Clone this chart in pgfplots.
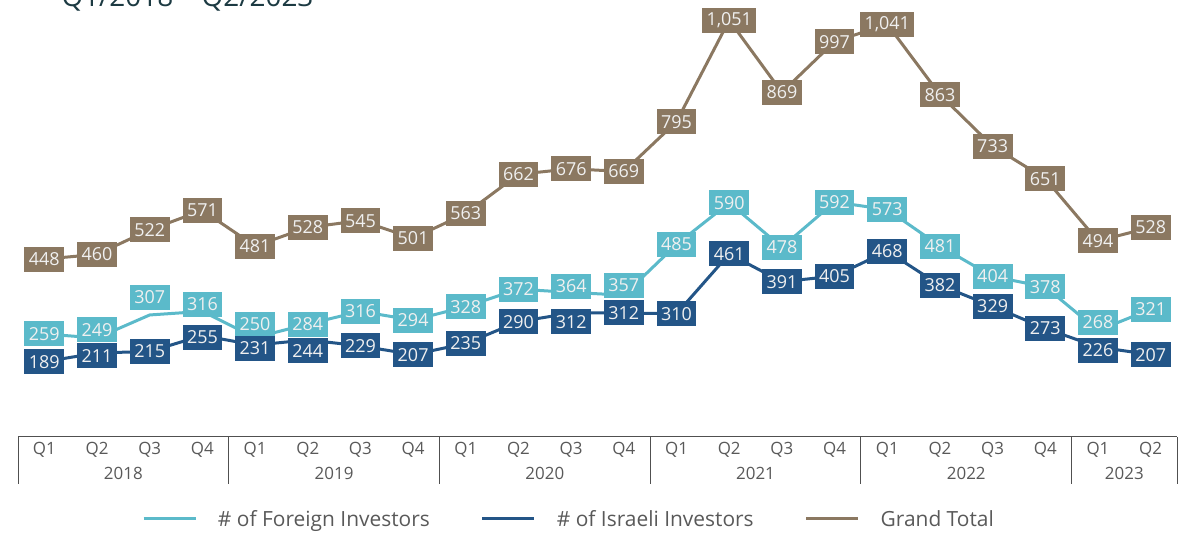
\documentclass[border=0pt]{standalone}
\usepackage{fontspec}
\setmainfont{Open Sans}
\usepackage{pgfplots}
\pgfplotsset{compat=1.18}
\usepackage{pgfplotstable}
\definecolor{cF}{RGB}{91,186,202}
\definecolor{cI}{RGB}{35,85,135}
\definecolor{cT}{RGB}{139,120,97}
\definecolor{txt}{RGB}{89,89,89}
\definecolor{axc}{RGB}{80,80,80}
\definecolor{ttl}{RGB}{28,58,66}

\pgfplotstableread{
x y dy
0 259 0
1 249 8
2 307 17.7
3 316 7
4 250 13.6
5 284 0
6 316 0
7 294 0
8 328 0
9 372 0
10 364 6
11 357 10
12 485 0
13 590 0
14 478 0
15 592 0
16 573 0
17 481 0
18 404 0
19 378 0
20 268 8
21 321 0
}\foreign

\pgfplotstableread{
x y dy
0 189 0
1 211 -3
2 215 0
3 255 -2
4 231 -3
5 244 -11
6 229 0
7 207 0
8 235 0
9 290 0
10 312 -8.7
11 312 0
12 310 0
13 461 0
14 391 0
15 405 0
16 468 0
17 382 0
18 329 0
19 273 0
20 226 -3
21 207 0
}\israeli

\pgfplotstableread{
x y dy
0 448 0
1 460 0
2 522 0
3 571 0
4 481 0
5 528 0
6 545 0
7 501 0
8 563 0
9 662 0
10 676 0
11 669 0
12 795 0
13 1051 0
14 869 0
15 997 0
16 1041 0
17 863 0
18 733 0
19 651 0
20 494 0
21 528 0
}\total

\tikzset{yearlab/.style={font=\fontsize{17}{17}\selectfont, text=txt, anchor=center, yshift=-36.5bp}}

\begin{document}
\begin{tikzpicture}
\useasboundingbox (-18bp,-97.4bp) rectangle (1170bp,436.6bp);
\begin{axis}[
  at={(0,0)}, anchor=south west,
  width=1159bp, height=436.6bp, scale only axis,
  xmin=-0.5, xmax=21.5, ymin=0, ymax=1102,
  axis x line*=bottom, axis y line=none,
  x axis line style={draw=axc, line width=1bp},
  clip=false,
  xtick={0,...,21},
  xticklabels={Q1,Q2,Q3,Q4,Q1,Q2,Q3,Q4,Q1,Q2,Q3,Q4,Q1,Q2,Q3,Q4,Q1,Q2,Q3,Q4,Q1,Q2},
  major tick length=0pt,
  xticklabel style={font=\fontsize{17}{17}\selectfont, text=txt, anchor=center, yshift=-13.5bp},
  extra x ticks={-0.5,3.5,7.5,11.5,15.5,19.5,21.5},
  extra x tick labels={},
  extra x tick style={major tick length=47bp, tick align=outside, tick style={draw=axc, line width=1bp}},
  /pgf/number format/assume math mode=true,
  /pgf/number format/1000 sep={,},
  nodes near coords,
  nodes near coords align={center},
  visualization depends on={\thisrow{dy}\as\dy},
  every node near coord/.append style={anchor=center, yshift=\dy, text=white!94!black,
     font=\fontsize{18}{18}\selectfont, inner xsep=4.5bp, inner ysep=0pt, minimum height=25bp},
  legend columns=3,
  legend style={draw=none, fill=none, at={(axis description cs:0.107,-0.1885)}, anchor=west,
     font=\fontsize{21}{21}\selectfont, text=txt, inner sep=0pt, outer sep=0pt,
     /tikz/every odd column/.append style={column sep=19bp},
     /tikz/every even column/.append style={column sep=49bp}},
  legend image code/.code={\draw[#1, line width=3bp] (0bp,0bp) -- (52bp,0bp);},
]
\addplot[cF, line width=3bp, mark=none, every node near coord/.append style={fill=cF}] table[x=x,y=y]{\foreign};
\addlegendentry{\# of Foreign Investors}
\addplot[cI, line width=3bp, mark=none, every node near coord/.append style={fill=cI}] table[x=x,y=y]{\israeli};
\addlegendentry{\# of Israeli Investors}
\addplot[cT, line width=3bp, mark=none, every node near coord/.append style={fill=cT}] table[x=x,y=y]{\total};
\addlegendentry{Grand Total}
\node[yearlab] at (axis cs:1.5,0) {2018};
\node[yearlab] at (axis cs:5.5,0) {2019};
\node[yearlab] at (axis cs:9.5,0) {2020};
\node[yearlab] at (axis cs:13.5,0) {2021};
\node[yearlab] at (axis cs:17.5,0) {2022};
\node[yearlab] at (axis cs:20.5,0) {2023};
\end{axis}
\node[anchor=base west, font=\fontsize{28}{28}\selectfont, text=ttl] at (40bp,430bp) {Q1/2018 – Q2/2023};
\end{tikzpicture}
\end{document}
